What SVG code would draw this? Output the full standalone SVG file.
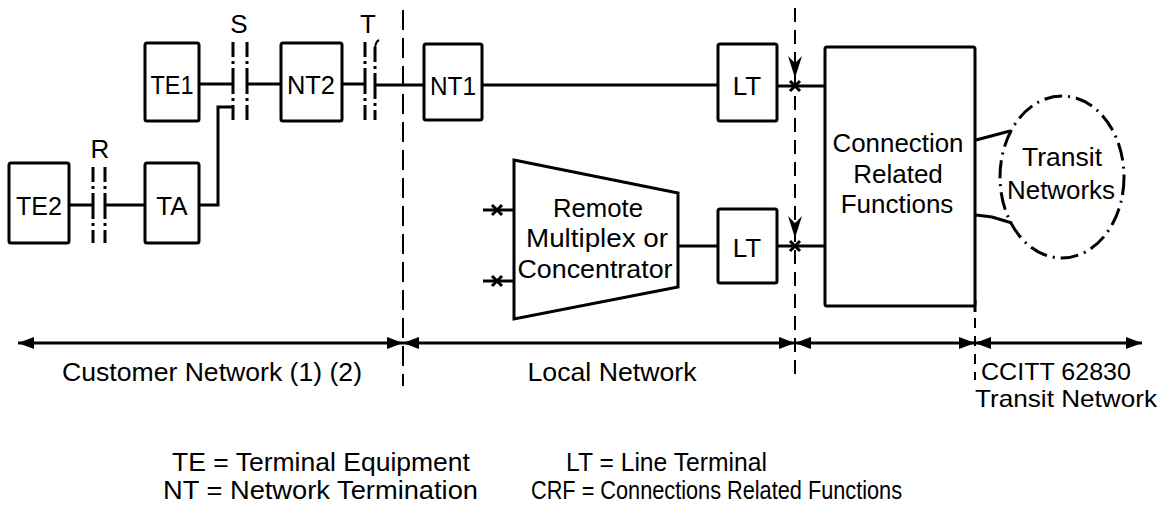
<svg xmlns="http://www.w3.org/2000/svg" width="1164" height="506" viewBox="0 0 1164 506">
<style>
text{font-family:"Liberation Sans",Arial,sans-serif;fill:#000;}
.lbl{font-size:26px;text-anchor:middle;}
.big{font-size:26px;}
.leg{font-size:26px;}
.box{fill:#fff;stroke:#000;stroke-width:3;}
.ln{fill:none;stroke:#000;stroke-width:3;}
.bar{fill:none;stroke:#000;stroke-width:3;stroke-dasharray:15 4 3 4 26 4 3 4 15;}
.div{fill:none;stroke:#000;stroke-width:2;stroke-dasharray:20 8;}
.div2{fill:none;stroke:#000;stroke-width:2;stroke-dasharray:14 8;}
.xm{fill:none;stroke:#000;stroke-width:3;}
.dim{fill:none;stroke:#000;stroke-width:3;marker-start:url(#ah);marker-end:url(#ah);}
</style>
<defs>
<marker id="ah" viewBox="0 0 16 12" refX="16" refY="6" markerWidth="16" markerHeight="12" markerUnits="userSpaceOnUse" orient="auto-start-reverse">
<path d="M0,0 L16,6 L0,12 Z" fill="#000"/>
</marker>
</defs>
<rect width="1164" height="506" fill="#fff"/>

<g id="boundaries">
<line class="div" x1="403" y1="10" x2="403" y2="386"/>
<line class="div2" x1="795" y1="8" x2="795" y2="380"/>
<line class="ln" x1="975" y1="300" x2="975" y2="312"/>
<line class="div2" x1="975" y1="318" x2="975" y2="380" style="stroke-dasharray:10 8"/>
</g>

<g id="connectors">
<line class="ln" x1="69" y1="205" x2="93" y2="205"/>
<line class="ln" x1="105" y1="205" x2="145" y2="205"/>
<path class="ln" d="M199,205 H218 V107 H233"/>
<line class="ln" x1="199" y1="84" x2="233" y2="84"/>
<line class="ln" x1="247" y1="84" x2="281" y2="84"/>
<line class="ln" x1="342" y1="84" x2="365" y2="84"/>
<line class="ln" x1="375" y1="85" x2="424" y2="85"/>
<line class="ln" x1="482" y1="85" x2="718" y2="85"/>
<line class="ln" x1="777" y1="86" x2="825" y2="86"/>
<line class="ln" x1="678" y1="246" x2="718" y2="246"/>
<line class="ln" x1="777" y1="246" x2="825" y2="246"/>
<line class="ln" x1="483" y1="210" x2="514" y2="210"/>
<line class="ln" x1="483" y1="281" x2="514" y2="281"/>
<path class="ln" d="M976,140 L1010,131"/>
<path class="ln" d="M976,215 L992,217 L1012,223"/>
<!-- x marks -->
<path class="xm" d="M492,205 L502,215 M492,215 L502,205"/>
<path class="xm" d="M492,276 L502,286 M492,286 L502,276"/>
<path class="xm" d="M790,81 L800,91 M790,91 L800,81"/>
<path class="xm" d="M790,241 L800,251 M790,251 L800,241"/>
<!-- downward arrowheads on boundary -->
<path d="M788,56 L795,78 L802,56 L795,63 Z" fill="#000"/>
<path d="M788,216 L795,238 L802,216 L795,223 Z" fill="#000"/>
<!-- bottom extent arrows -->
<line class="dim" x1="18" y1="343" x2="403" y2="343"/>
<line class="dim" x1="403" y1="343" x2="795" y2="343"/>
<line class="dim" x1="795" y1="343" x2="975" y2="343"/>
<line class="dim" x1="975" y1="343" x2="1142" y2="343"/>
</g>

<g id="ref-R">
<line class="bar" x1="93" y1="167" x2="93" y2="243"/>
<line class="bar" x1="105" y1="167" x2="105" y2="243"/>
<text class="lbl" x="100" y="158">R</text>
</g>
<g id="ref-S">
<line class="bar" x1="233" y1="42" x2="233" y2="120"/>
<line class="bar" x1="247" y1="42" x2="247" y2="120"/>
<text class="lbl" x="239" y="33">S</text>
</g>
<g id="ref-T">
<line class="bar" x1="365" y1="42" x2="365" y2="120"/>
<line class="bar" x1="375" y1="47" x2="375" y2="120"/>
<path class="ln" style="stroke-width:2" d="M379,40 Q375,42 375,50"/>
<text class="lbl" x="368" y="33">T</text>
</g>

<g id="TE1">
<rect class="box" x="145" y="43" width="54" height="78" rx="2"/>
<text class="lbl" x="172" y="94" textLength="43" lengthAdjust="spacingAndGlyphs">TE1</text>
</g>
<g id="NT2">
<rect class="box" x="281" y="43" width="61" height="78" rx="2"/>
<text class="lbl" x="311" y="94" textLength="48" lengthAdjust="spacingAndGlyphs">NT2</text>
</g>
<g id="TE2">
<rect class="box" x="9" y="163" width="60" height="80" rx="2"/>
<text class="lbl" x="39" y="215" textLength="46" lengthAdjust="spacingAndGlyphs">TE2</text>
</g>
<g id="TA">
<rect class="box" x="145" y="163" width="54" height="80" rx="2"/>
<text class="lbl" x="172" y="215">TA</text>
</g>
<g id="NT1">
<rect class="box" x="424" y="44" width="58" height="76" rx="2"/>
<text class="lbl" x="453" y="95" textLength="46" lengthAdjust="spacingAndGlyphs">NT1</text>
</g>
<g id="LT-top">
<rect class="box" x="718" y="44" width="59" height="77" rx="2"/>
<text class="lbl" x="747" y="95">LT</text>
</g>
<g id="LT-bottom">
<rect class="box" x="718" y="209" width="59" height="74" rx="2"/>
<text class="lbl" x="747" y="257">LT</text>
</g>
<g id="remote-mux">
<path class="box" d="M514,160 L678,193 L678,287 L514,319 Z"/>
<text class="lbl" x="598" y="217" textLength="90" lengthAdjust="spacingAndGlyphs">Remote</text>
<text class="lbl" x="597" y="247" textLength="142" lengthAdjust="spacingAndGlyphs">Multiplex or</text>
<text class="lbl" x="595" y="278" textLength="155" lengthAdjust="spacingAndGlyphs">Concentrator</text>
</g>
<g id="CRF">
<rect class="box" x="825" y="47" width="150" height="259" rx="2"/>
<text class="lbl" x="898" y="152" textLength="131" lengthAdjust="spacingAndGlyphs">Connection</text>
<text class="lbl" x="898" y="183">Related</text>
<text class="lbl" x="897" y="213">Functions</text>
</g>
<g id="transit">
<ellipse cx="1062" cy="177" rx="62" ry="81" fill="none" stroke="#000" stroke-width="3" stroke-dasharray="18 6 2 6"/>
<text class="lbl" x="1062" y="166" textLength="80" lengthAdjust="spacingAndGlyphs">Transit</text>
<text class="lbl" x="1061" y="199" textLength="108" lengthAdjust="spacingAndGlyphs">Networks</text>
</g>

<g id="labels">
<text class="big" x="212" y="381" text-anchor="middle" textLength="300" lengthAdjust="spacingAndGlyphs">Customer Network (1) (2)</text>
<text class="big" x="612" y="381" text-anchor="middle" textLength="169" lengthAdjust="spacingAndGlyphs">Local Network</text>
<text x="981" y="380" style="font-size:24px" textLength="150" lengthAdjust="spacingAndGlyphs">CCITT 62830</text>
<text x="975" y="407" style="font-size:24px" textLength="182" lengthAdjust="spacingAndGlyphs">Transit Network</text>
<text class="leg" x="172" y="471" textLength="298" lengthAdjust="spacingAndGlyphs">TE = Terminal Equipment</text>
<text class="leg" x="163" y="499" textLength="315" lengthAdjust="spacingAndGlyphs">NT = Network Termination</text>
<text class="leg" x="566" y="471" textLength="201" lengthAdjust="spacingAndGlyphs">LT = Line Terminal</text>
<text class="leg" x="531" y="499" textLength="371" lengthAdjust="spacingAndGlyphs">CRF = Connections Related Functions</text>
</g>
</svg>
